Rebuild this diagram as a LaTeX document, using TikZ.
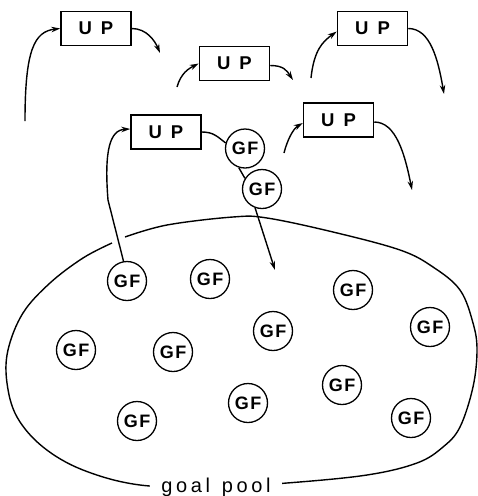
\documentclass[tikz,border=0pt]{standalone}
\usepackage{fontspec}
\setmainfont{Liberation Sans}
\newfontfamily\poolfont[LetterSpace=18]{Liberation Sans}
\usetikzlibrary{arrows.meta}
\begin{document}
\begin{tikzpicture}[x=1pt,y=-1pt,
  upbox/.style={draw,line width=1.5pt,minimum width=70pt,minimum height=34pt,inner sep=0pt,font=\fontsize{18.5}{19}\selectfont\bfseries},
  gf/.style={draw,circle,line width=1.3pt,minimum size=39pt,inner sep=0pt,font=\fontsize{18}{19}\selectfont\bfseries},
  conn/.style={line width=1.4pt},
  arr/.style={conn,-{Stealth[length=9pt,width=5.5pt]}}]
\useasboundingbox (0,0) rectangle (478,496);
% UP boxes
\node[upbox] (UP1) at (96,28.5) {U\kern9pt P};
\node[upbox] (UP2) at (234.5,63.5) {U\kern9pt P};
\node[upbox] (UP3) at (372.5,28.5) {U\kern9pt P};
\node[upbox] (UP4) at (166,132) {U\kern9pt P};
\node[upbox] (UP5) at (338.5,120) {U\kern9pt P};
% upper GFs
\node[gf] (GFa) at (245,148.5) {G\kern1.5pt F};
\node[gf] (GFb) at (262,189) {G\kern1.5pt F};
% pool GFs
\node[gf] (g1) at (127,281) {G\kern1.5pt F};
\node[gf] (g2) at (210,279) {G\kern1.5pt F};
\node[gf] (g3) at (353,290) {G\kern1.5pt F};
\node[gf] (g4) at (430,327) {G\kern1.5pt F};
\node[gf] (g5) at (273,331) {G\kern1.5pt F};
\node[gf] (g6) at (76,350) {G\kern1.5pt F};
\node[gf] (g7) at (173,352) {G\kern1.5pt F};
\node[gf] (g8) at (342,385) {G\kern1.5pt F};
\node[gf] (g9) at (248,403) {G\kern1.5pt F};
\node[gf] (g10) at (137,421) {G\kern1.5pt F};
\node[gf] (g11) at (411,418) {G\kern1.5pt F};
% pool outline
\draw[conn] plot[smooth,tension=0.6] coordinates {(125,237) (167,225) (233,217) (267,218) (333,232) (400,250) (433,267) (460,290) (473,323) (477,350) (473,387) (460,427) (443,447) (417,463) (367,475) (287,483) (215,487) (140,485) (83,470) (43,447) (17,417) (7,383) (8,350) (23,313) (50,283) (83,258) (112,243)};
\node[fill=white,inner xsep=11pt,inner ysep=2pt,anchor=base,font=\poolfont\fontsize{20}{21}\selectfont] (label) at (216,492) {goal\kern12pt pool};
% connectors
\coordinate (s1) at (25,121);
\coordinate (e2) at (160,53);
\coordinate (s3) at (177,87);
\coordinate (e4) at (293,80);
\coordinate (s5) at (311,78);
\coordinate (e6) at (444,94);
\coordinate (m7) at (108,200);
\coordinate (e8) at (412,190);
\coordinate (s9) at (284,153);
\coordinate (eb) at (275,270);
\draw[arr] (s1) .. controls +(0,-71) and +(-26,3) .. (UP1.west);
\draw[arr] (UP1.east) .. controls +(15,0) and +(-5,-12) .. (e2);
\draw[arr] (s3) .. controls +(4,-14) and +(-10,5) .. (UP2.west);
\draw[arr] ([yshift=-2pt]UP2.east) .. controls +(14,0) and +(-6,-9) .. (e4);
\draw[arr] (s5) .. controls +(3,-28) and +(-14,10) .. ([yshift=-3pt]UP3.west);
\draw[arr] (UP3.east) .. controls +(22,0) and +(-6,-35) .. (e6);
\draw[arr] (g1.100) -- (m7) .. controls (104,150) and (110,130) .. ([yshift=3pt]UP4.west);
\draw[conn] (UP4.east) .. controls +(12,0) and +(-8,-6) .. (GFa.164);
\draw[arr] ([yshift=-2pt]UP5.east) .. controls +(22,0) and +(-7,-35) .. (e8);
\draw[arr] (s9) .. controls +(3,-12) and +(-10,6) .. ([yshift=-3pt]UP5.west);
\draw[conn] (GFa.252) -- (GFb.148);
\draw[arr] (GFb.250) -- (eb);
\end{tikzpicture}
\end{document}
